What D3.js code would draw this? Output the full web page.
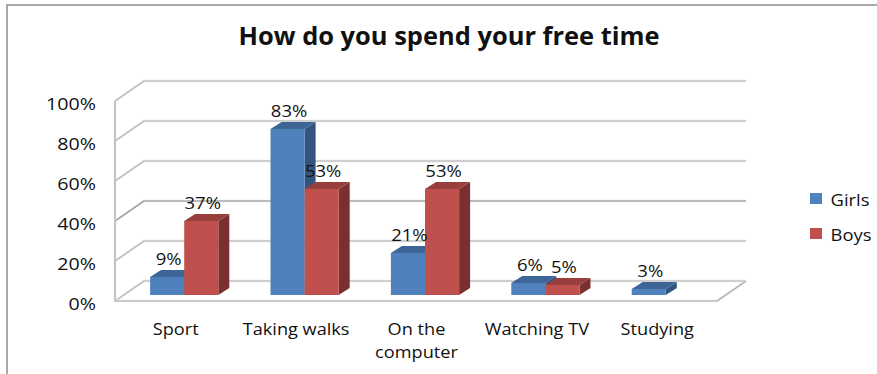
<!DOCTYPE html>
<html>
<head>
<meta charset="utf-8">
<script src="https://cdn.jsdelivr.net/npm/d3@7"></script>
<style>
  html, body { margin: 0; padding: 0; background: #fff; }
  svg { display: block; }
  text { font-family: "Open Sans", sans-serif; fill: #111; }
</style>
</head>
<body>
<svg id="chart" width="877" height="374"></svg>
<script>
const categories = [["Sport"], ["Taking walks"], ["On the", "computer"], ["Watching TV"], ["Studying"]];
const seriesNames = ["Girls", "Boys"];
const girls = [9, 83, 21, 6, 3];
const boys = [37, 53, 53, 5, null];
const yTicks = [0, 20, 40, 60, 80, 100];
const seriesColors = [
  { front: "#4f81bd", top: "#3d6595", side: "#345480" },
  { front: "#c0504d", top: "#973f3d", side: "#7a302e" }
];

const svg = d3.select("#chart");

// Oblique projection: depth runs up and to the right.
const wallDx = 29, wallDy = -20;
const barFloorDx = 9, barFloorDy = -6;
const barDepthDx = 11, barDepthDy = -7;

const x = d3.scaleBand().domain(d3.range(categories.length)).range([115, 717]);
const y = d3.scaleLinear().domain([0, 100]).range([301, 101]);
const seriesX = d3.scaleBand().domain([0, 1]).range([0, 68.2]);
const barStart = i => x(i) + x.bandwidth() / 2 - seriesX.bandwidth() + barFloorDx;

// Widen glyphs horizontally around the text's own measured length.
function stretch(sel, factor) {
  sel.each(function () {
    const len = this.getComputedTextLength();
    d3.select(this).attr("textLength", len * factor).attr("lengthAdjust", "spacingAndGlyphs");
  });
}

// Outer frame of the chart area
svg.append("path")
  .attr("d", "M7,374V5H877")
  .attr("fill", "none").attr("stroke", "#8c8c8c").attr("stroke-width", 1.5);

svg.append("text")
  .attr("x", 449).attr("y", 45)
  .attr("text-anchor", "middle")
  .attr("font-size", 25).attr("font-weight", 700)
  .attr("textLength", 421).attr("lengthAdjust", "spacingAndGlyphs")
  .text("How do you spend your free time");

// Walls, floor and gridlines
const walls = svg.append("g").attr("fill", "none").attr("stroke-linejoin", "round");
function wallLine(d, w, color) {
  walls.append("path").attr("d", d).attr("stroke", color).attr("stroke-width", w);
}
const x0 = x.range()[0], x1 = x.range()[1];
yTicks.forEach(t => {
  const d = `M${x0},${y(t)}L${x0 + wallDx},${y(t) + wallDy}H${x1 + wallDx}`;
  wallLine(d, 2.6, "#e8e8e8");
  wallLine(d, 1.1, t === 40 ? "#909090" : "#b6b6b6");
});
const floorEdge = `M${x0},${y(100)}V${y(0)}H${x1}L${x1 + wallDx},${y(0) + wallDy}`;
wallLine(floorEdge, 2.6, "#e8e8e8");
wallLine(floorEdge, 1.2, "#acacac");

// Each bar: side face, top face, then the front face over them.
const bars = svg.append("g");
const base = y(0) + barFloorDy;
function drawBar(catIdx, serIdx, value) {
  if (value == null) return;
  const c = seriesColors[serIdx];
  const left = barStart(catIdx) + seriesX(serIdx);
  const right = left + seriesX.bandwidth();
  const top = y(value) + barFloorDy;
  bars.append("path").attr("fill", c.side)
    .attr("d", `M${right},${top}l${barDepthDx},${barDepthDy}V${base + barDepthDy}L${right},${base}Z`);
  bars.append("path").attr("fill", c.top)
    .attr("d", `M${left},${top}l${barDepthDx},${barDepthDy}H${right + barDepthDx}L${right},${top}Z`);
  bars.append("rect").attr("fill", c.front)
    .attr("x", left).attr("y", top)
    .attr("width", right - left).attr("height", base - top);
}
categories.forEach((_, i) => {
  drawBar(i, 0, girls[i]);
  drawBar(i, 1, boys[i]);
});

// Value labels
const labels = svg.append("g").attr("text-anchor", "middle").attr("font-size", 16);
[girls, boys].forEach((vals, s) => {
  vals.forEach((v, i) => {
    if (v == null) return;
    labels.append("text")
      .attr("x", barStart(i) + seriesX(s) + seriesX.bandwidth() / 2 + 1.5)
      .attr("y", y(v) + barFloorDy - 12)
      .text(v + "%");
  });
});
stretch(labels.selectAll("text"), 1.155);

// Value axis
const yAxis = d3.axisLeft(y).tickValues(yTicks).tickSize(0).tickPadding(19).tickFormat(d => d + "%");
const axisG = svg.append("g").attr("transform", "translate(115,0)").call(yAxis);
axisG.select(".domain").remove();
axisG.selectAll("text")
  .attr("font-size", 16.5).attr("font-family", '"Open Sans", sans-serif')
  .attr("y", 3);
stretch(axisG.selectAll("text"), 1.19);

// Category labels, one text element per line
const catLabels = svg.append("g").attr("text-anchor", "middle").attr("font-size", 16.5);
categories.forEach((lines, i) => {
  lines.forEach((line, k) => {
    catLabels.append("text")
      .attr("x", x(i) + x.bandwidth() / 2 + 0.5)
      .attr("y", 335 + k * 23)
      .text(line);
  });
});
stretch(catLabels.selectAll("text"), 1.1);

// Legend
const legend = svg.append("g");
seriesNames.forEach((name, i) => {
  const ly = 193 + i * 35;
  legend.append("rect").attr("x", 810).attr("y", ly)
    .attr("width", 12).attr("height", 11).attr("fill", seriesColors[i].front);
  legend.append("text").attr("x", 830.5).attr("y", ly + 13)
    .attr("font-size", 16).text(name);
});
stretch(legend.selectAll("text"), 1.15);
</script>
</body>
</html>
